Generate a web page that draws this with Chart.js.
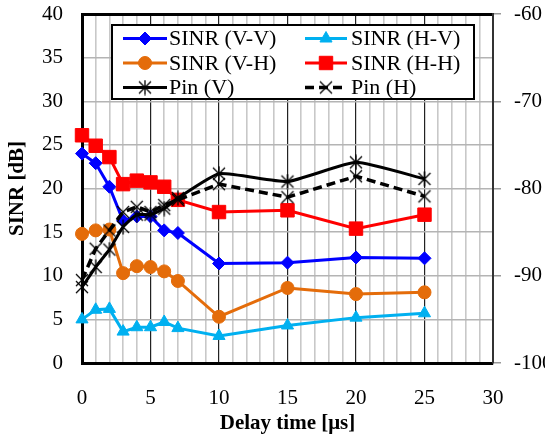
<!DOCTYPE html>
<html>
<head>
<meta charset="utf-8">
<script src="https://cdn.jsdelivr.net/npm/chart.js"></script>
<style>
  html, body { margin: 0; padding: 0; background: #fff; }
  #wrap { width: 545px; height: 436px; }
</style>
</head>
<body>
<div id="wrap"><canvas id="sinrChart" width="545" height="436"></canvas></div>
<script>
// SINR / Pin vs delay time
var delays = [0, 1, 2, 3, 4, 5, 6, 7, 10, 15, 20, 25];
var sinrVV = [24.0, 22.9, 20.2, 16.3, 16.8, 16.8, 15.2, 14.9, 11.4, 11.5, 12.1, 12.0];
var sinrHV = [5.0, 6.1, 6.2, 3.6, 4.1, 4.1, 4.7, 4.0, 3.1, 4.3, 5.2, 5.7];
var sinrVH = [14.8, 15.2, 15.3, 10.3, 11.1, 11.0, 10.5, 9.4, 5.3, 8.6, 7.9, 8.1];
var sinrHH = [26.1, 24.9, 23.6, 20.5, 20.9, 20.7, 20.2, 18.7, 17.3, 17.5, 15.4, 17.0];
var pinV = [-91.3, -89.0, -87.0, -84.4, -83.0, -83.0, -82.3, -81.1, -78.3, -79.2, -77.0, -78.9];
var pinH = [-90.5, -86.9, -84.8, -82.7, -82.1, -82.7, -81.9, -81.3, -79.5, -81.0, -78.6, -80.9];
var seriesNames = ['SINR (V-V)', 'SINR (H-V)', 'SINR (V-H)', 'SINR (H-H)', 'Pin (V)', 'Pin (H)'];

var FONT = "'Liberation Serif', 'Times New Roman', serif";

function pts(ys) {
    return delays.map(function(d, i) { return { x: d, y: ys[i] }; });
}

// excel style asterisk (x + vertical bar) and plain x
function markCanvas(withBar) {
    var c = document.createElement('canvas');
    c.width = 16; c.height = 16;
    var g = c.getContext('2d');
    g.strokeStyle = '#000'; g.lineWidth = 1.3;
    g.beginPath();
    g.moveTo(2, 2); g.lineTo(14, 14);
    g.moveTo(14, 2); g.lineTo(2, 14);
    if (withBar) { g.moveTo(8, 0.5); g.lineTo(8, 15.5); }
    g.stroke();
    return c;
}
var starMark = markCanvas(true);
var xMark = markCanvas(false);

function ds(i, ys, color, style, radius, axis, extra) {
    var d = {
        label: seriesNames[i],
        data: pts(ys),
        yAxisID: axis,
        borderColor: color,
        backgroundColor: color,
        borderWidth: 3,
        pointStyle: style,
        pointRadius: radius,
        pointHoverRadius: radius,
        pointBorderWidth: 1,
        tension: 0,
        clip: false
    };
    for (var k in extra) d[k] = extra[k];
    return d;
}

var datasets = [
    ds(0, sinrVV, '#0000ff', 'rectRot', 6.5, 'y', { order: 4 }),
    ds(1, sinrHV, '#00b0f0', 'triangle', 7, 'y', { order: 5 }),
    ds(2, sinrVH, '#e46c0a', 'circle', 6.5, 'y', { order: 3 }),
    ds(3, sinrHH, '#ff0000', 'rect', 9.5, 'y', { order: 2 }),
    ds(4, pinV, '#000000', starMark, 8, 'y2', { order: 1, tension: 0.15 }),
    ds(5, pinH, '#000000', xMark, 8, 'y2', { order: 0, borderDash: [9, 5], borderWidth: 3.5 })
];

// keep the plot box where the reference has it
function fixBox(size, key) {
    return function(s) {
        s[key] = size;
        s.paddingTop = 0; s.paddingBottom = 0;
        s.paddingLeft = 0; s.paddingRight = 0;
    };
}

// boxed legend inside the plot, two columns
var boxLegend = {
    id: 'boxLegend',
    afterDatasetsDraw: function(chart) {
        var ctx = chart.ctx;
        var box = { x: 112, y: 25, w: 362, h: 74 };
        ctx.save();
        ctx.fillStyle = '#fff';
        ctx.fillRect(box.x, box.y, box.w, box.h);
        ctx.strokeStyle = '#000';
        ctx.lineWidth = 2;
        ctx.strokeRect(box.x, box.y, box.w, box.h);
        var cols = [{ x1: 123, x2: 167, tx: 169 }, { x1: 305, x2: 347, tx: 351 }];
        var rows = [38.5, 63, 87.5];
        var order = [[0, 1], [2, 3], [4, 5]];
        ctx.font = '22px ' + FONT;
        ctx.textBaseline = 'middle';
        ctx.textAlign = 'left';
        order.forEach(function(pair, r) {
            pair.forEach(function(di, c) {
                var d = chart.data.datasets[di];
                var col = cols[c], y = rows[r];
                ctx.strokeStyle = d.borderColor;
                ctx.lineWidth = d.borderWidth;
                ctx.setLineDash(d.borderDash || []);
                ctx.beginPath();
                ctx.moveTo(col.x1, y); ctx.lineTo(col.x2, y);
                ctx.stroke();
                ctx.setLineDash([]);
                ctx.fillStyle = d.backgroundColor;
                ctx.strokeStyle = d.borderColor;
                ctx.lineWidth = 1;
                Chart.helpers.drawPoint(ctx, {
                    pointStyle: d.pointStyle,
                    radius: d.pointRadius,
                    rotation: 0,
                    borderWidth: 1
                }, (col.x1 + col.x2) / 2, y);
                ctx.fillStyle = '#000';
                ctx.fillText(d.label, col.tx, y + 1);
            });
        });
        ctx.restore();
    }
};

new Chart(document.getElementById('sinrChart').getContext('2d'), {
    type: 'line',
    data: { datasets: datasets },
    options: {
        responsive: false,
        animation: false,
        events: [],
        layout: { padding: { top: 14, left: 0, right: 0, bottom: 0 } },
        plugins: { legend: { display: false }, tooltip: { enabled: false } },
        scales: {
            x: {
                type: 'linear', min: 0, max: 30,
                afterFit: fixBox(73, 'height'),
                ticks: {
                    stepSize: 1, autoSkip: false, maxRotation: 0, padding: 23,
                    color: '#000', font: { family: FONT, size: 21 },
                    callback: function(v) { return v % 5 === 0 ? v : ''; }
                },
                grid: {
                    drawTicks: false,
                    color: function(c) { return c.tick.value % 5 === 0 ? '#222' : '#c8c8c8'; },
                    lineWidth: function(c) { return c.tick.value % 5 === 0 ? 1.2 : 1.6; }
                },
                border: { color: '#000', width: 3 },
                title: {
                    display: true, text: 'Delay time [μs]', color: '#000',
                    font: { family: FONT, size: 21, weight: 'bold' },
                    padding: { top: 0, bottom: 0 }
                }
            },
            y: {
                position: 'left', min: 0, max: 40,
                afterFit: fixBox(82, 'width'),
                ticks: { stepSize: 5, padding: 19, color: '#000', font: { family: FONT, size: 21 } },
                grid: {
                    drawTicks: false,
                    color: function(c) { return c.tick.value === 40 ? '#000' : '#b4b4b4'; },
                    lineWidth: function(c) { return c.tick.value === 40 ? 3 : 1.5; }
                },
                border: { color: '#000', width: 3 },
                title: {
                    display: true, text: 'SINR [dB]', color: '#000',
                    font: { family: FONT, size: 21, weight: 'bold' },
                    padding: { top: 5, bottom: 0 }
                }
            },
            y2: {
                position: 'right', min: -100, max: -60,
                afterFit: fixBox(52, 'width'),
                ticks: { stepSize: 10, padding: 13, color: '#000', font: { family: FONT, size: 21 } },
                grid: { drawOnChartArea: false, drawTicks: true, tickLength: 8, color: '#999', lineWidth: 1.5 },
                border: { color: '#333', width: 2 }
            }
        }
    },
    plugins: [boxLegend]
});
</script>
</body>
</html>
